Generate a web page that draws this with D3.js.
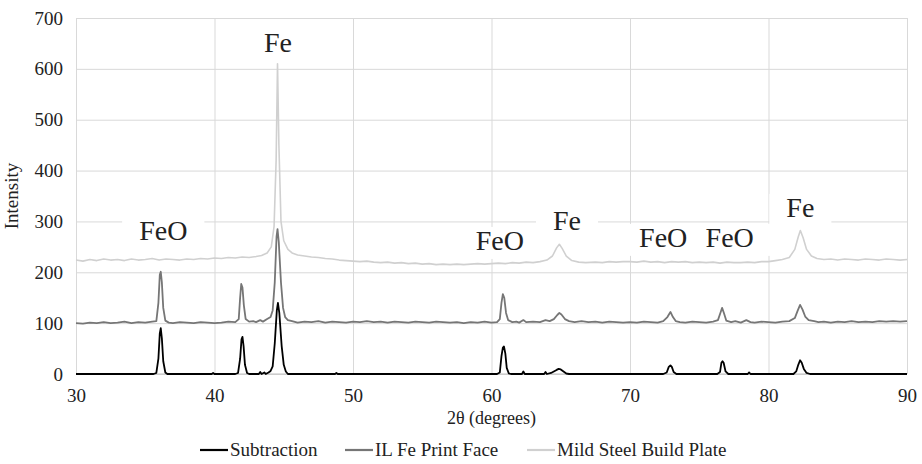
<!DOCTYPE html>
<html lang="en">
<head>
<meta charset="UTF-8">
<title>XRD patterns</title>
<script src="https://d3js.org/d3.v7.min.js"></script>
<style>
    body { margin: 0; background: #fff; }
    svg text { font-family: "Liberation Serif", "Times New Roman", Times, serif !important; fill: #222; }
    .grid line { stroke: #d9d9d9; stroke-width: 1; }
    .grid .domain { display: none; }
</style>
</head>
<body>
<div id="chart"></div>
<script>
// tick labels
var xTicks = [30, 40, 50, 60, 70, 80, 90];
var yTicks = [0, 100, 200, 300, 400, 500, 600, 700];

var seriesNames = ["Subtraction", "IL Fe Print Face", "Mild Steel Build Plate"];

// [2theta, intensity]
var subtraction = [[30,0],[35.6,0],[35.8,2],[35.95,30],[36.05,80],[36.12,90],[36.2,70],[36.3,25],[36.45,3],[36.6,0],
    [39.8,0],[39.9,2],[40,0],[41.5,0],[41.7,2],[41.85,30],[41.95,68],[42.02,73],[42.1,55],[42.2,18],[42.35,2],[42.5,0],
    [43.2,0],[43.3,4],[43.4,0],[43.6,3],[43.7,0],[43.9,3],[44.05,6],[44.2,15],[44.35,60],[44.5,125],[44.58,140],[44.68,120],
    [44.85,55],[45,18],[45.15,5],[45.3,0],[48.7,0],[48.8,2],[48.9,0],[60.4,0],[60.6,3],[60.72,35],[60.82,52],[60.9,54],[61,40],
    [61.1,12],[61.25,1],[61.4,0],[62.2,0],[62.3,5],[62.4,0],[63.8,0],[63.9,4],[64,0],[64.3,2],[64.5,5],[64.7,8],[64.85,10],
    [65,9],[65.2,5],[65.4,1],[65.6,0],[72.4,0],[72.65,3],[72.8,14],[72.92,17],[73.02,14],[73.15,4],[73.35,0],[76.3,0],
    [76.5,4],[76.6,22],[76.68,25],[76.76,22],[76.9,5],[77.1,0],[78.5,0],[78.6,3],[78.7,0],[81.8,0],[82,5],[82.15,18],
    [82.28,27],[82.4,22],[82.55,10],[82.75,2],[83,0],[90,0]];

var printFace = [[30,100],[30.5,99],[31,101],[31.5,100],[32,102],[32.5,100],[33,101],[33.5,103],[34,100],[34.5,102],[35,101],
    [35.5,103],[35.8,104],[35.95,140],[36.05,195],[36.12,201],[36.2,180],[36.3,130],[36.45,105],[36.7,101],[37,100],[37.5,102],
    [38,101],[38.5,100],[39,102],[39.5,101],[40,100],[40.5,101],[41,103],[41.5,102],[41.75,108],[41.85,150],[41.93,177],
    [42.02,170],[42.12,135],[42.25,108],[42.5,103],[42.8,104],[43,102],[43.3,106],[43.5,103],[43.8,108],[44.05,112],[44.2,125],
    [44.35,180],[44.48,270],[44.55,285],[44.64,260],[44.8,180],[44.95,130],[45.1,112],[45.3,106],[45.6,104],[46,101],[46.5,103],
    [47,102],[47.5,104],[48,101],[48.5,103],[49,102],[49.5,101],[50,103],[50.5,102],[51,104],[51.5,102],[52,103],[52.5,101],
    [53,103],[53.5,102],[54,101],[54.5,103],[55,102],[55.5,101],[56,103],[56.5,102],[57,101],[57.5,102],[58,100],[58.5,102],
    [59,101],[59.5,103],[60,101],[60.4,102],[60.6,108],[60.72,140],[60.82,157],[60.92,150],[61.05,120],[61.2,106],[61.5,102],
    [61.8,103],[62,101],[62.3,106],[62.5,102],[63,103],[63.5,102],[63.9,106],[64.2,104],[64.5,108],[64.75,116],[64.9,120],
    [65.05,117],[65.3,108],[65.6,104],[66,102],[66.5,104],[67,102],[67.5,103],[68,101],[68.5,103],[69,102],[69.5,101],[70,102],
    [70.5,101],[71,103],[71.5,102],[72,101],[72.4,104],[72.7,112],[72.92,122],[73.1,112],[73.3,104],[73.6,102],[74,101],
    [74.5,103],[75,102],[75.5,101],[76,103],[76.35,106],[76.55,122],[76.65,130],[76.78,120],[76.95,105],[77.3,102],[77.6,104],
    [78,101],[78.4,106],[78.7,102],[79,101],[79.5,103],[80,102],[80.5,101],[81,103],[81.5,104],[81.9,110],[82.1,124],
    [82.28,136],[82.45,127],[82.65,113],[82.9,106],[83.3,104],[83.6,102],[84,103],[84.5,101],[85,103],[85.5,102],[86,104],
    [86.5,102],[87,103],[87.5,102],[88,104],[88.5,103],[89,104],[89.5,103],[90,104]];

var buildPlate = [[30,224],[30.5,222],[31,225],[31.5,223],[32,226],[32.5,224],[33,225],[33.5,223],[34,226],[34.5,224],[35,225],
    [35.5,227],[36,224],[36.5,226],[37,225],[37.5,224],[38,226],[38.5,225],[39,227],[39.5,226],[40,228],[40.5,227],[41,229],
    [41.5,228],[42,230],[42.5,229],[43,231],[43.4,233],[43.8,238],[44.1,250],[44.3,290],[44.45,420],[44.55,610],[44.65,450],
    [44.8,300],[45,262],[45.3,245],[45.6,238],[46,234],[46.5,232],[47,230],[47.5,229],[48,227],[48.5,226],[49,224],[49.5,223],
    [50,222],[50.5,221],[51,222],[51.5,220],[52,219],[52.5,220],[53,218],[53.5,219],[54,217],[54.5,218],[55,216],[55.5,217],
    [56,215],[56.5,216],[57,215],[57.5,216],[58,215],[58.5,216],[59,217],[59.5,216],[60,217],[60.5,218],[61,217],[61.5,219],
    [62,218],[62.5,220],[63,219],[63.5,221],[64,224],[64.4,232],[64.7,248],[64.9,255],[65.1,247],[65.4,232],[65.8,223],
    [66.3,220],[66.8,219],[67.5,220],[68,219],[68.5,221],[69,220],[69.5,221],[70,221],[70.5,220],[71,222],[71.5,220],[72,221],
    [72.5,219],[73,221],[73.5,220],[74,221],[74.5,219],[75,220],[75.5,219],[76,220],[76.5,218],[77,220],[77.5,219],[78,219],
    [78.5,220],[79,219],[79.5,221],[80,221],[80.5,223],[81,225],[81.5,229],[81.9,245],[82.15,270],[82.3,282],[82.5,268],
    [82.75,245],[83.1,232],[83.5,227],[84,225],[84.5,226],[85,224],[85.5,226],[86,225],[86.5,224],[87,226],[87.5,225],
    [88,224],[88.5,226],[89,225],[89.5,224],[90,225]];

// phase labels: [text, 2theta, intensity at baseline]
var peakLabels = [["FeO", 36.3, 263], ["Fe", 44.58, 633], ["FeO", 60.6, 244], ["Fe", 65.45, 283],
    ["FeO", 72.4, 250], ["FeO", 77.2, 250], ["Fe", 82.3, 309]];

var margin = {top: 18, right: 15, bottom: 90, left: 76},
    width = 922 - margin.left - margin.right,
    height = 464 - margin.top - margin.bottom;

var svg = d3.select("#chart").append("svg")
    .attr("width", 922).attr("height", 464)
    .attr("font-family", "Liberation Serif, Times New Roman, serif")
    .append("g")
    .attr("transform", "translate(" + margin.left + "," + margin.top + ")");

var x = d3.scaleLinear().domain([30, 90]).range([0, width]);
var y = d3.scaleLinear().domain([0, 700]).range([height, 0]);

// gridlines + tick labels
var gy = svg.append("g").attr("class", "grid")
    .call(d3.axisLeft(y).tickValues(yTicks).tickSize(-width).tickPadding(13));
gy.attr("font-family", null);
gy.selectAll("text").style("font-size", "19px");

var gx = svg.append("g").attr("class", "grid")
    .attr("transform", "translate(0," + height + ")")
    .call(d3.axisBottom(x).tickValues(xTicks).tickSize(-height).tickPadding(15));
gx.attr("font-family", null);
gx.selectAll("text").style("font-size", "19px");

// bottom axis line
svg.append("line").attr("x1", 0).attr("x2", width).attr("y1", height).attr("y2", height)
    .attr("stroke", "#bfbfbf");

// label boxes + text
var lab = svg.append("g").selectAll("g").data(peakLabels).enter().append("g");
lab.append("text")
    .attr("x", function(d) { return x(d[1]); })
    .attr("y", function(d) { return y(d[2]); })
    .attr("text-anchor", "middle")
    .style("font-size", "28px")
    .text(function(d) { return d[0]; });
lab.each(function() {
    var g = d3.select(this), b = g.select("text").node().getBBox();
    g.insert("rect", "text")
        .attr("x", b.x - 17).attr("y", b.y + 2)
        .attr("width", b.width + 34).attr("height", b.height + 1)
        .attr("fill", "#fff");
});

var colors = ["#000000", "#767676", "#d0d0d0"];
var widths = [1.8, 1.8, 1.6];
var allSeries = [subtraction, printFace, buildPlate];

var line = d3.line()
    .x(function(d) { return x(d[0]); })
    .y(function(d) { return y(d[1]); });

// draw back to front
[2, 1, 0].forEach(function(i) {
    svg.append("path")
        .datum(allSeries[i])
        .attr("fill", "none")
        .attr("stroke", colors[i])
        .attr("stroke-width", widths[i])
        .attr("stroke-linejoin", "round")
        .attr("d", line);
});

// axis titles
svg.append("text")
    .attr("x", x(60))
    .attr("y", height + 50)
    .attr("text-anchor", "middle")
    .style("font-size", "18px")
    .text("2θ (degrees)");

svg.append("text")
    .attr("transform", "translate(" + (-58) + "," + (height / 2) + ") rotate(-90)")
    .attr("text-anchor", "middle")
    .style("font-size", "19px")
    .text("Intensity");

// legend
var legendX = [124, 269, 451];
var leg = svg.append("g").attr("transform", "translate(0," + (height + 76) + ")");
seriesNames.forEach(function(n, i) {
    leg.append("line")
        .attr("x1", legendX[i]).attr("x2", legendX[i] + 28)
        .attr("y1", 0).attr("y2", 0)
        .attr("stroke", colors[i]).attr("stroke-width", 2.2);
    leg.append("text")
        .attr("x", legendX[i] + 30).attr("y", 6)
        .style("font-size", "19px")
        .text(n);
});
</script>
</body>
</html>
